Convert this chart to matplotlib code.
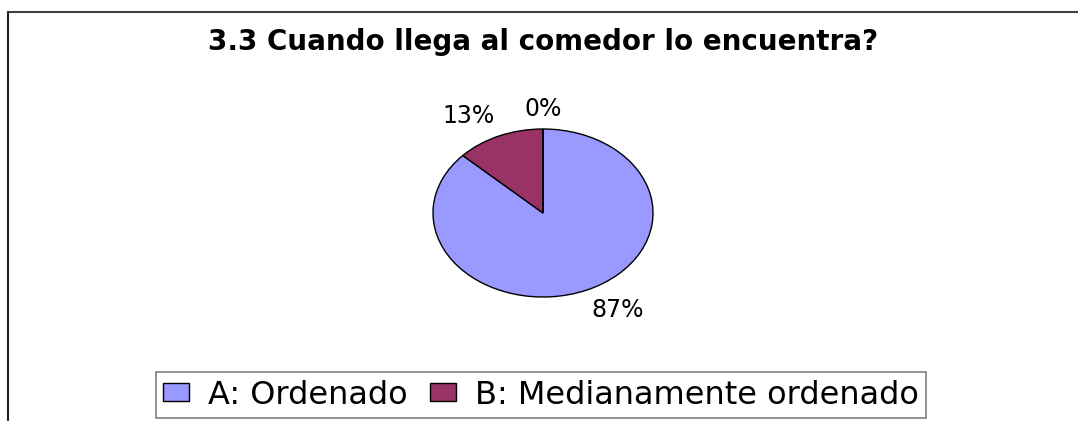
import numpy as np
import matplotlib
matplotlib.use("Agg")
import matplotlib.pyplot as plt
from matplotlib.lines import Line2D

title = "3.3 Cuando llega al comedor lo encuentra?"
categories = ["A: Ordenado", "B: Medianamente ordenado", "C"]
values = [87, 13, 0]
colors = ["#9999FF", "#993366", "#FFFFCC"]
legend_count = 2

W, H = 1078, 421
fig = plt.figure(figsize=(W / 100, H / 100), dpi=100)
fig.patch.set_facecolor("white")

# frame lines (left and top of the chart area)
fig.add_artist(Line2D([8 / W, 8 / W], [0, 1 - 12 / H], transform=fig.transFigure,
                      color="#202020", lw=1.5))
fig.add_artist(Line2D([8 / W, 1], [1 - 12 / H, 1 - 12 / H], transform=fig.transFigure,
                      color="#404040", lw=1.5))

cx, cy, rx, ry = 543, 213, 110, 84
ax = fig.add_axes([(cx - rx) / W, (H - cy - ry) / H, 2 * rx / W, 2 * ry / H])
wedges, texts, autotexts = ax.pie(
    values, colors=colors, startangle=90, counterclock=False,
    autopct="%1.0f%%", pctdistance=1.1,
    wedgeprops=dict(edgecolor="black", linewidth=1.0),
    textprops=dict(fontsize=17, family="DejaVu Sans", color="black"))
ax.set_aspect("auto")
ax.set_xlim(-1, 1)
ax.set_ylim(-1, 1)
ax.axis("off")

for w, t in zip(wedges, autotexts):
    ang = np.deg2rad((w.theta1 + w.theta2) / 2)
    c, s = np.cos(ang), np.sin(ang)
    t.set_ha("left" if c > 0.1 else ("right" if c < -0.1 else "center"))
    t.set_va("bottom" if s > 0.1 else ("top" if s < -0.1 else "center"))
    t.set_clip_on(False)

fig.text(cx / W, 1 - 42 / H, title, ha="center", va="center",
         fontsize=20, fontweight="bold", family="DejaVu Sans")

leg = fig.legend(wedges[:legend_count], categories[:legend_count], loc="center",
                 bbox_to_anchor=(541 / W, 1 - 395 / H), ncol=2, frameon=True,
                 fancybox=False, prop=dict(family="DejaVu Sans", size=23),
                 handlelength=0.82, handleheight=0.52, handletextpad=0.6,
                 columnspacing=0.7, borderpad=0.22, borderaxespad=0)
leg.get_frame().set_edgecolor("#606060")
leg.get_frame().set_linewidth(1.2)

fig.savefig("out.png", dpi=100, facecolor="white")
